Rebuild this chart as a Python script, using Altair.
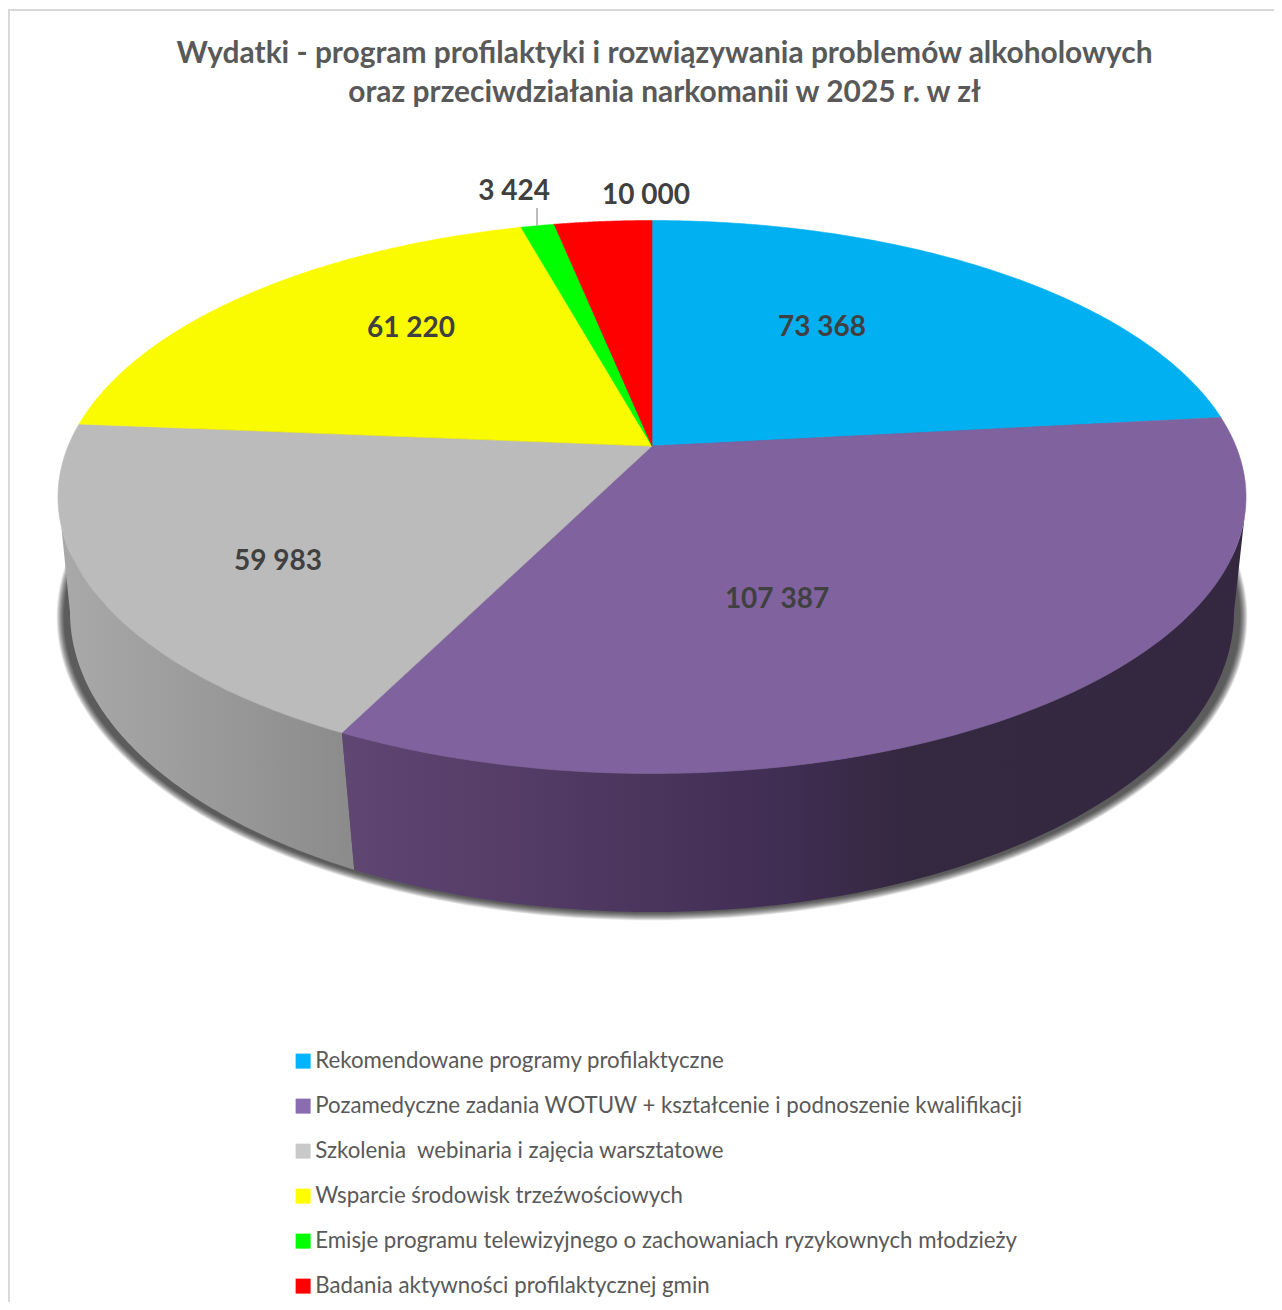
import math
import altair as alt

# ---- chart values ----
TITLE_LINES = [
    "Wydatki - program profilaktyki i rozwiązywania problemów alkoholowych",
    "oraz przeciwdziałania narkomanii w 2025 r. w zł",
]
CATEGORIES = [
    "Rekomendowane programy profilaktyczne",
    "Pozamedyczne zadania WOTUW + kształcenie i podnoszenie kwalifikacji",
    "Szkolenia \u00a0webinaria i zajęcia warsztatowe",
    "Wsparcie środowisk trzeźwościowych",
    "Emisje programu telewizyjnego o zachowaniach ryzykownych młodzieży",
    "Badania aktywności profilaktycznej gmin",
]
VALUES = [73368, 107387, 59983, 61220, 3424, 10000]
VALUE_LABELS = ["73 368", "107 387", "59 983", "61 220", "3 424", "10 000"]
FACE_COLORS = ["#00b0f0", "#7f629e", "#bbbbbb", "#fbfb00", "#00ff00", "#ff0000"]
LEGEND_COLORS = ["#00b4ff", "#8a6db0", "#c9c9c9", "#ffff00", "#00ff00", "#ff0000"]

# ---- layout (page pixels) ----
CX, TOP_CY, TOP_A, TOP_B, K = 652, 496, 594, 276.5, 0.83
BOT_CY, BOT_A, BOT_B = 611, 582, 300
SH_CY, SH_A, SH_B = 616, 588, 296
LABEL_XY = [(822, 327), (777, 599), (278, 561), (411, 328), (514, 191), (646, 195)]


def psi(theta):
    return 2 * math.atan2(K * math.sin(theta / 2), math.cos(theta / 2))


def top_pt(p):
    return [CX + TOP_A * math.sin(p), TOP_CY - TOP_B * math.cos(p)]


def bot_pt(p):
    return [CX + BOT_A * math.sin(p), BOT_CY - BOT_B * math.cos(p)]


def sweep(a, b, n=120):
    return [a + (b - a) * i / n for i in range(n + 1)]


def poly(ring, **props):
    ring = ring + [ring[0]]
    return {"type": "Feature", "properties": props,
            "geometry": {"type": "Polygon", "coordinates": [ring]}}


def path(pts, **props):
    return {"type": "Feature", "properties": props,
            "geometry": {"type": "LineString", "coordinates": pts}}


total = sum(VALUES)
edges, acc = [0.0], 0
for v in VALUES:
    acc += v
    edges.append(psi(2 * math.pi * acc / total))
apex = [CX, TOP_CY - TOP_B * (1 - K * K) / (1 + K * K)]

slices = [
    poly([apex] + [top_pt(p) for p in sweep(edges[i], edges[i + 1])],
         name=CATEGORIES[i], face=FACE_COLORS[i])
    for i in range(len(VALUES))
]

seam = edges[2]
seam_bot = seam - math.radians(0.7)
left_top, left_bot = math.radians(264), math.radians(270)
right_top, right_bot = math.radians(94), math.radians(90)
wall_gray = [poly([top_pt(p) for p in sweep(left_top, seam)] +
                  [bot_pt(p) for p in sweep(seam_bot, left_bot)])]
wall_purple = [poly([top_pt(p) for p in sweep(right_top, seam)] +
                    [bot_pt(p) for p in sweep(seam_bot, right_bot)])]

shadow = [
    poly([[CX + (SH_A + d) * math.sin(p), SH_CY - (SH_B + d) * math.cos(p)]
          for p in sweep(0, 2 * math.pi, 240)[:-1]])
    for d in [x * 0.5 for x in range(0, 16)]
]

border = [path([[1290, 9], [9, 9], [9, 1320]])]
leader = [path([[537, 207], [537, 225]])]
labels = [{"lon": x, "lat": y, "t": t} for (x, y), t in zip(LABEL_XY, VALUE_LABELS)]

proj = alt.Projection(type="identity", scale=1, translate=[-8, -7])


def grad(stops):
    return alt.LinearGradient(
        gradient="linear", x1=0, x2=1, y1=0, y2=0,
        stops=[alt.GradientStop(offset=o, color=c) for o, c in stops],
    )


def geo(features):
    return alt.Chart(alt.Data(values=features))


layers = [
    geo(border).mark_geoshape(filled=False, stroke="#d9d9d9", strokeWidth=2),
    geo(shadow).mark_geoshape(filled=True, fill="#000000", fillOpacity=0.06, strokeWidth=0),
    geo(wall_gray).mark_geoshape(
        filled=True, strokeWidth=0,
        fill=grad([(0, "#a9a9a9"), (1, "#8b8b8b")])),
    geo(wall_purple).mark_geoshape(
        filled=True, strokeWidth=0,
        fill=grad([(0, "#604673"), (0.5, "#402d52"), (0.62, "#352841"), (1, "#342840")])),
    geo(slices).mark_geoshape(filled=True, opacity=0).encode(
        color=alt.Color(
            "properties.name:N",
            scale=alt.Scale(domain=CATEGORIES, range=LEGEND_COLORS),
            legend=alt.Legend(
                title=None, orient="none", legendX=284, legendY=1042,
                symbolType="square", symbolSize=225, symbolStrokeWidth=0,
                labelFont="Lato", labelFontSize=22.25, labelColor="#595959",
                labelLimit=1000, labelOffset=1, rowPadding=22,
            ),
        )
    ),
    geo(slices).mark_geoshape(filled=True, strokeWidth=0.6).encode(
        fill=alt.Fill("properties.face:N", scale=None),
        stroke=alt.Stroke("properties.face:N", scale=None),
    ),
    geo(leader).mark_geoshape(filled=False, stroke="#a6a6a6", strokeWidth=1.5),
    alt.Chart(alt.Data(values=labels)).mark_text(
        font="Lato", fontSize=28, fontWeight="bold", color="#404040"
    ).encode(longitude="lon:Q", latitude="lat:Q", text="t:N"),
]

chart = alt.layer(*layers, projection=proj).properties(
    width=1266,
    height=1294,
    padding=0,
    autosize=alt.AutoSizeParams(type="none"),
    title=alt.TitleParams(
        text=TITLE_LINES, anchor="middle", dx=23.5, dy=100, offset=0,
        font="Lato", fontSize=29.9, fontWeight="bold", color="#595959", lineHeight=39,
    ),
).configure_view(stroke=None)

chart.save("out.html", embed_options={"renderer": "svg", "actions": False})
